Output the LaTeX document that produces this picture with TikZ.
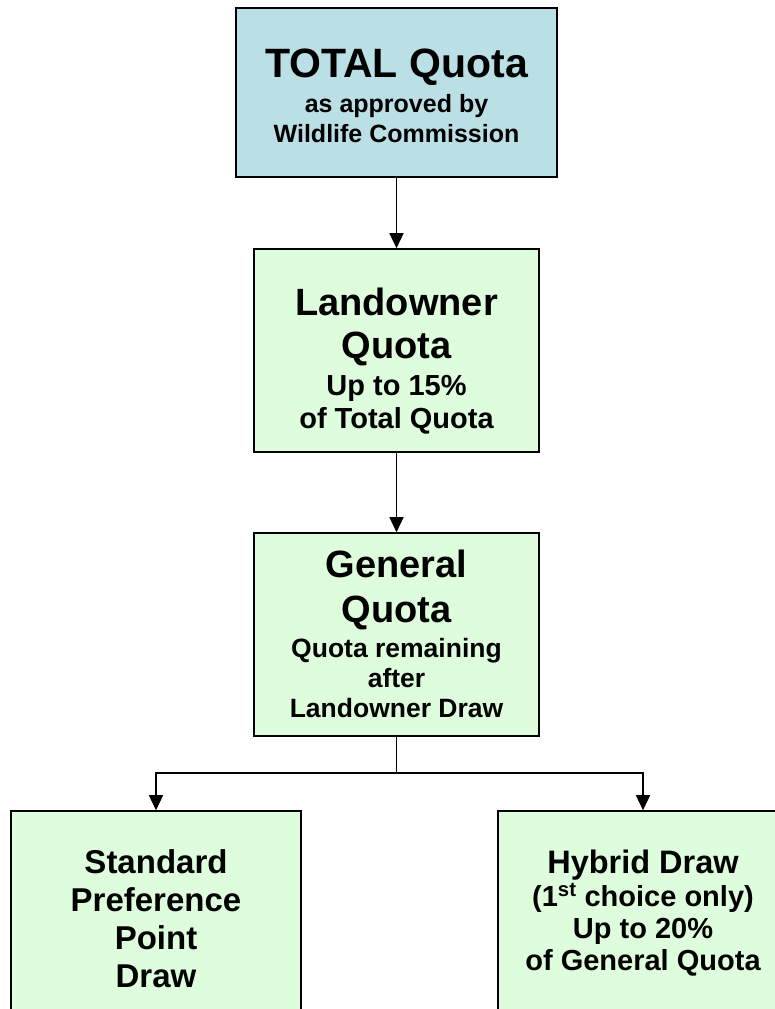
\documentclass[tikz,border=0pt]{standalone}
\usepackage{fontspec}
\setmainfont{Liberation Sans}
\usetikzlibrary{arrows.meta,positioning}
\definecolor{quotablue}{RGB}{186,224,229}
\definecolor{quotagreen}{RGB}{221,253,221}
\tikzset{
        quotabox/.style={draw, rectangle, line width=1.6pt, inner sep=0pt, align=center},
        link/.style={line width=1.5pt, -{Triangle[length=15pt,width=14pt]}},
    }
\newcommand{\bigline}[1]{\fontsize{#1}{#1}\selectfont}

\begin{document}
\begin{tikzpicture}[x = 1pt, y = -1pt]
                \useasboundingbox (0,0) rectangle (775,1009);
                \clip (0,0) rectangle (775,1009);
                % boxes
                \node[quotabox, fill=quotablue, minimum width=321pt, minimum height=169pt,
                      font=\bfseries\fontsize{25}{30}\selectfont] (total) at (396.5,92.5)
                    {\rule{0pt}{42pt}\bigline{41}TOTAL Quota\\[5pt]
                     as approved by\\
                     Wildlife Commission\rule[-8pt]{0pt}{8pt}};
                \node[quotabox, fill=quotagreen, minimum width=285pt, minimum height=203pt,
                      font=\bfseries\fontsize{29}{33}\selectfont] (land) at (396.5,350.5)
                    {\rule{0pt}{50pt}\bigline{38}Landowner\\[10pt]
                     \bigline{38}Quota\\[4pt]
                     Up to 15\%\\
                     of Total Quota\rule[-8pt]{0pt}{8pt}};
                \node[quotabox, fill=quotagreen, minimum width=285pt, minimum height=203pt,
                      font=\bfseries\fontsize{26.5}{30}\selectfont] (general) at (396.5,634.5)
                    {\rule{0pt}{33pt}\bigline{38}General\\[15pt]
                     \bigline{38}Quota\\[5pt]
                     Quota remaining\\
                     after\\
                     Landowner Draw\rule[-8pt]{0pt}{8pt}};
                \node[quotabox, fill=quotagreen, minimum width=290pt, minimum height=203pt,
                      font=\bfseries\fontsize{33}{38}\selectfont] (std) at (156,912.5)
                    {\rule{0pt}{43pt}Standard\\
                     Preference\\
                     Point\\
                     Draw\rule[-8pt]{0pt}{8pt}};
                \node[quotabox, fill=quotagreen, minimum width=290pt, minimum height=203pt,
                      font=\bfseries\fontsize{29}{32}\selectfont] (hybrid) at (643,912.5)
                    {\rule{0pt}{26pt}\bigline{32.5}Hybrid Draw\\[1pt]
                     (1\textsuperscript{st} choice only)\\
                     Up to 20\%\\
                     of General Quota\rule[-8pt]{0pt}{8pt}};
                % connectors
                \coordinate (split) at (396.5,773);
                \draw[link] (total) -- (land);
                \draw[link] (land) -- (general);
                \draw[link] (general.south) -- (split) -| (std.north);
                \draw[link] (split) -| (hybrid.north);
            \end{tikzpicture}
\end{document}
